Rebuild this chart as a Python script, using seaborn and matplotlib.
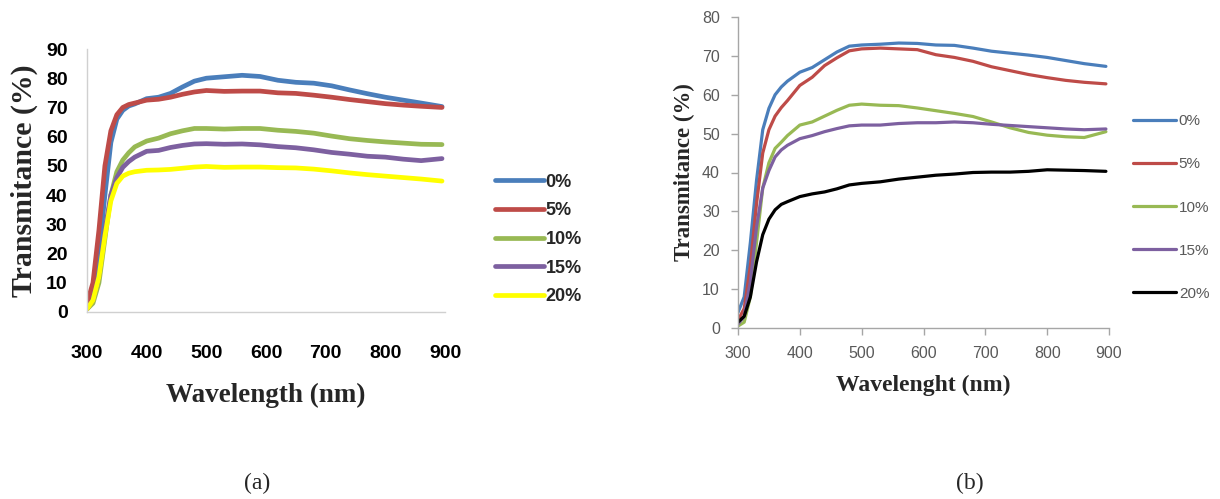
import matplotlib
matplotlib.use("Agg")
import matplotlib.pyplot as plt
import seaborn as sns
import pandas as pd

# ---------------- data ----------------
wavelength = [300, 310, 320, 330, 340, 350, 360, 370, 380, 400, 420, 440, 460, 480,
              500, 530, 560, 590, 620, 650, 680, 710, 740, 770, 800, 830, 860, 895]

labels = ["0%", "5%", "10%", "15%", "20%"]

# panel (a)
a_0 = [2, 8, 20, 40, 58, 66, 69, 70.5, 71.2, 73, 73.5, 74.8, 77, 79,
       80, 80.5, 81, 80.6, 79.3, 78.6, 78.3, 77.4, 76, 74.7, 73.5, 72.5, 71.5, 70.3]
a_5 = [3, 10, 28, 50, 62, 67.5, 70, 71, 71.5, 72.5, 72.8, 73.5, 74.5, 75.3,
       75.8, 75.5, 75.6, 75.6, 75, 74.8, 74.2, 73.5, 72.7, 72, 71.3, 70.8, 70.4, 70]
a_10 = [1, 3, 10, 25, 40, 48, 52, 54.5, 56.5, 58.5, 59.5, 61, 62, 62.8,
        62.8, 62.6, 62.8, 62.8, 62.2, 61.8, 61.2, 60.2, 59.3, 58.7, 58.2, 57.8, 57.4, 57.3]
a_15 = [1, 4, 12, 28, 40, 46, 49.5, 51.5, 53, 55, 55.3, 56.3, 57, 57.5,
        57.6, 57.4, 57.5, 57.2, 56.6, 56.2, 55.5, 54.6, 54, 53.3, 53, 52.3, 51.8, 52.5]
a_20 = [1, 4, 12, 26, 38, 44, 46.5, 47.5, 48, 48.5, 48.6, 48.8, 49.2, 49.6,
        49.8, 49.5, 49.6, 49.6, 49.4, 49.3, 48.9, 48.3, 47.6, 47, 46.5, 46, 45.5, 44.8]

# panel (b)
b_0 = [4, 8, 22, 38, 51, 56.5, 60, 62, 63.5, 65.8, 67, 69, 71, 72.5,
       72.8, 73, 73.3, 73.2, 72.8, 72.7, 72, 71.2, 70.7, 70.2, 69.6, 68.8, 68, 67.3]
b_5 = [2, 5, 16, 32, 45, 51, 54.5, 56.7, 58.5, 62.4, 64.5, 67.5, 69.5, 71.3,
       71.8, 72, 71.8, 71.6, 70.3, 69.6, 68.6, 67.2, 66.2, 65.2, 64.4, 63.7, 63.2, 62.8]
b_10 = [0.5, 1.5, 8, 22, 36, 42.5, 46.2, 47.8, 49.5, 52.2, 53, 54.5, 56, 57.3,
        57.6, 57.3, 57.2, 56.6, 55.9, 55.2, 54.4, 53, 51.5, 50.3, 49.6, 49.2, 49, 50.5]
b_15 = [1, 3, 12, 26, 36, 40.5, 44, 45.8, 47, 48.7, 49.5, 50.5, 51.3, 52,
        52.2, 52.2, 52.6, 52.8, 52.8, 53, 52.8, 52.4, 52.1, 51.8, 51.5, 51.2, 51, 51.2]
b_20 = [1.5, 3, 8, 17, 24, 28, 30.4, 31.8, 32.5, 33.8, 34.5, 35, 35.8, 36.8,
        37.2, 37.6, 38.3, 38.8, 39.3, 39.6, 40, 40.1, 40.1, 40.3, 40.7, 40.6, 40.5, 40.3]

x_ticks = [300, 400, 500, 600, 700, 800, 900]
colors_a = ["#4a7ebb", "#be4b48", "#98b954", "#7d60a0", "#ffff00"]
colors_b = ["#4a7ebb", "#be4b48", "#98b954", "#7d60a0", "#000000"]

# ---------------- figure ----------------
sns.set_style("white")
plt.rcParams["font.family"] = ["Liberation Sans", "DejaVu Sans"]

fig = plt.figure(figsize=(12.2, 4.99), dpi=100)
axA = fig.add_axes([87 / 1220, 1 - 312 / 499, (445 - 87) / 1220, (312 - 49) / 499])
axB = fig.add_axes([738 / 1220, 1 - 328 / 499, (1109 - 738) / 1220, (328 - 17) / 499])

serif = ["Liberation Serif", "DejaVu Serif"]

# panel (a)
for lab, ys, c in zip(labels, [a_0, a_5, a_10, a_15, a_20], colors_a):
    sns.lineplot(x=wavelength, y=ys, ax=axA, color=c, linewidth=3.4, label=lab,
                 errorbar=None)
axA.set_xlim(300, 900)
axA.set_ylim(0, 90)
axA.set_xticks(x_ticks)
axA.set_yticks(range(0, 91, 10))
for s in ["top", "right"]:
    axA.spines[s].set_visible(False)
for s in ["left", "bottom"]:
    axA.spines[s].set_color("#d0d0d0")
    axA.spines[s].set_linewidth(1.0)
axA.tick_params(axis="both", length=0, labelsize=14, labelcolor="black")
axA.tick_params(axis="x", pad=24)
axA.tick_params(axis="y", pad=14)
for t in axA.get_xticklabels() + axA.get_yticklabels():
    t.set_fontweight("bold")
axA.set_xlabel("Wavelength (nm)", fontsize=19.5, fontweight="bold", family=serif, labelpad=15)
axA.set_ylabel("Transmitance (%)", fontsize=21.5, fontweight="bold", family=serif, labelpad=6)
legA = axA.legend(loc="center left", bbox_to_anchor=(495 / 1220, 1 - 239.5 / 499),
                  bbox_transform=fig.transFigure, frameon=False, fontsize=13,
                  handlelength=2.7, handletextpad=0.1, labelspacing=0.65,
                  borderpad=0, borderaxespad=0)
for t in legA.get_texts():
    t.set_fontweight("bold")
for h in legA.legend_handles:
    h.set_linewidth(3.4)

# panel (b)
for lab, ys, c in zip(labels, [b_0, b_5, b_10, b_15, b_20], colors_b):
    sns.lineplot(x=wavelength, y=ys, ax=axB, color=c, linewidth=2.3, label=lab,
                 errorbar=None)
axB.set_xlim(300, 900)
axB.set_ylim(0, 80)
axB.set_xticks(x_ticks)
axB.set_yticks(range(0, 81, 10))
for s in ["top", "right"]:
    axB.spines[s].set_visible(False)
for s in ["left", "bottom"]:
    axB.spines[s].set_color("#a6a6a6")
    axB.spines[s].set_linewidth(1.0)
axB.tick_params(axis="both", direction="out", length=5, width=1.0, color="#a6a6a6",
                labelsize=11.5, labelcolor="#595959", pad=8, bottom=True, left=True)
axB.set_xlabel("Wavelenght (nm)", fontsize=17, fontweight="bold", family=serif, labelpad=10)
axB.set_ylabel("Transmitance (%)", fontsize=16.5, fontweight="bold", family=serif, labelpad=5)
legB = axB.legend(loc="center left", bbox_to_anchor=(1133 / 1220, 1 - 207.5 / 499),
                  bbox_transform=fig.transFigure, frameon=False, fontsize=11,
                  labelcolor="#595959", handlelength=2.8, handletextpad=0.2,
                  labelspacing=1.9, borderpad=0, borderaxespad=0)
for h in legB.legend_handles:
    h.set_linewidth(2.3)

# captions
fig.text(257 / 1220, 1 - 483 / 499, "(a)", fontsize=17, family=serif, ha="center", va="center")
fig.text(970 / 1220, 1 - 483 / 499, "(b)", fontsize=17, family=serif, ha="center", va="center")

fig.savefig("out.png", dpi=100, facecolor="white")
